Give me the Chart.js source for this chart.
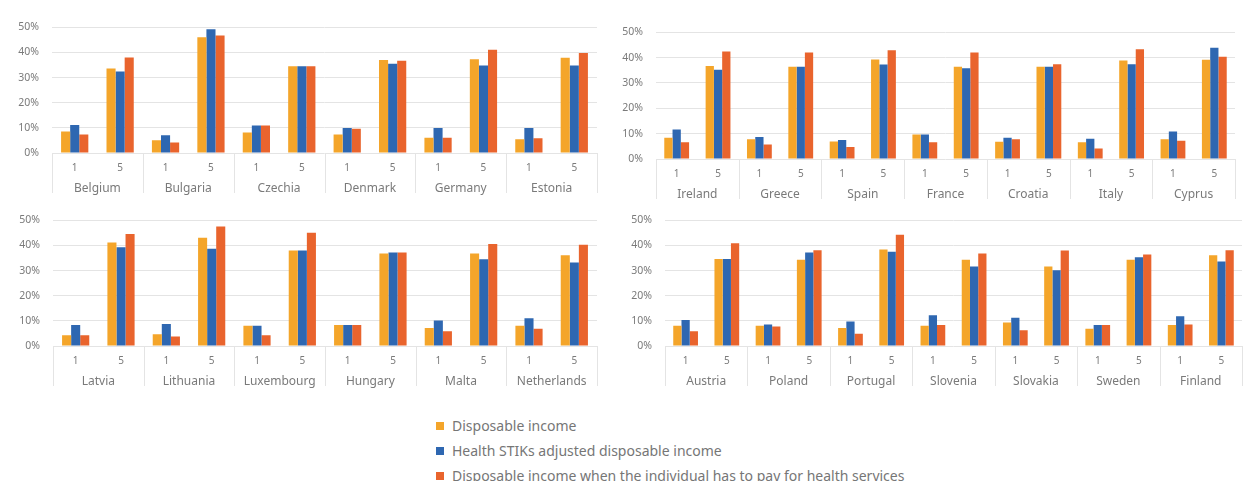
<!DOCTYPE html>
<html>
<head>
<meta charset="utf-8">
<script src="https://cdn.jsdelivr.net/npm/chart.js@4.4.1/dist/chart.umd.min.js"></script>
<style>
  html, body { margin: 0; padding: 0; background: #fff; }
  body { width: 1246px; height: 481px; position: relative; overflow: hidden; font-family: "Noto Sans", sans-serif; }
  canvas.panel { position: absolute; }
  #legend { position: absolute; left: 436px; top: 413px; color: #767676; font-size: 14px; }
  #legend .row { height: 25px; display: flex; align-items: center; white-space: nowrap; }
  #legend .key { width: 8px; height: 8px; margin-right: 8px; flex: none; }
</style>
</head>
<body>
<canvas id="panelA" class="panel"></canvas>
<canvas id="panelB" class="panel"></canvas>
<canvas id="panelC" class="panel"></canvas>
<canvas id="panelD" class="panel"></canvas>
<div id="legend"></div>

<script>
// ---- data (share of people, %) ----
const quintiles = ["1", "5"];
const yTicks = [0, 10, 20, 30, 40, 50];
const seriesNames = [
  "Disposable income",
  "Health STIKs adjusted disposable income",
  "Disposable income when the individual has to pay for health services"
];

// values are ordered country by country: [quintile 1, quintile 5, ...]
const countriesA = ["Belgium", "Bulgaria", "Czechia", "Denmark", "Germany", "Estonia"];
const incomeA = [8.6, 33.6, 5.1, 46.0, 8.2, 34.5, 7.4, 37.0, 6.1, 37.3, 5.5, 37.9];
const stiksA  = [11.1, 32.4, 7.1, 49.2, 10.9, 34.5, 9.9, 35.5, 9.9, 34.8, 9.9, 34.8];
const payA    = [7.4, 38.0, 4.2, 46.7, 10.9, 34.5, 9.6, 36.7, 6.1, 41.1, 5.9, 39.8];

const countriesB = ["Ireland", "Greece", "Spain", "France", "Croatia", "Italy", "Cyprus"];
const incomeB = [8.4, 36.7, 7.8, 36.4, 6.9, 39.3, 9.7, 36.4, 6.8, 36.4, 6.6, 38.9, 7.8, 39.2];
const stiksB  = [11.6, 35.2, 8.7, 36.4, 7.5, 37.3, 9.7, 35.8, 8.4, 36.4, 8.0, 37.4, 10.9, 43.9];
const payB    = [6.6, 42.4, 5.7, 42.0, 4.7, 42.9, 6.6, 42.0, 7.8, 37.4, 4.1, 43.3, 7.2, 40.4];

const countriesC = ["Latvia", "Lithuania", "Luxembourg", "Hungary", "Malta", "Netherlands"];
const incomeC = [4.3, 41.2, 4.7, 43.1, 8.1, 38.0, 8.4, 36.8, 7.2, 36.8, 8.1, 36.1];
const stiksC  = [8.4, 39.3, 8.8, 38.7, 8.1, 38.0, 8.4, 37.2, 10.1, 34.5, 11.0, 33.2];
const payC    = [4.3, 44.6, 3.8, 47.5, 4.3, 45.0, 8.4, 37.2, 5.9, 40.6, 6.9, 40.3];

const countriesD = ["Austria", "Poland", "Portugal", "Slovenia", "Slovakia", "Sweden", "Finland"];
const incomeD = [8.1, 34.6, 8.1, 34.3, 7.2, 38.4, 8.1, 34.3, 9.3, 31.6, 6.9, 34.3, 8.4, 36.1];
const stiksD  = [10.3, 34.6, 8.6, 37.2, 9.7, 37.5, 12.2, 31.6, 11.2, 30.1, 8.4, 35.3, 11.8, 33.6];
const payD    = [5.9, 40.9, 7.8, 38.1, 4.9, 44.3, 8.4, 36.8, 6.3, 38.0, 8.4, 36.4, 8.6, 38.1];

// ---- look ----
const COLORS = ["#F4A52A", "#2E67B1", "#E9642D"];
const TEXT = "#7a7a7a";
const GRID = "#e4e4e4";
const Y_AXIS_W = 52;   // room for the % labels
const X_ROW1_H = 22;   // quintile row
const X_ROW2_H = 20;   // country row
const TOP_PAD = 12;

// plot area of each panel on the page
const panels = [
  { id: "panelA", countries: countriesA, series: [incomeA, stiksA, payA], plot: { left: 52,  right: 597,  top: 20,  bottom: 153 } },
  { id: "panelB", countries: countriesB, series: [incomeB, stiksB, payB], plot: { left: 656, right: 1235, top: 25,  bottom: 159 } },
  { id: "panelC", countries: countriesC, series: [incomeC, stiksC, payC], plot: { left: 53,  right: 597,  top: 213, bottom: 346 } },
  { id: "panelD", countries: countriesD, series: [incomeD, stiksD, payD], plot: { left: 665, right: 1242, top: 213, bottom: 346 } }
];

// vertical separators between the country groups under the axis
const groupLines = {
  id: "groupLines",
  afterDraw(chart) {
    const { ctx, chartArea, scales: { x } } = chart;
    const n = x.ticks.length;
    ctx.save();
    ctx.strokeStyle = GRID;
    ctx.lineWidth = 1;
    for (let i = 0; i <= n; i += 2) {
      let px;
      if (i === 0) px = chartArea.left;
      else if (i === n) px = chartArea.right;
      else px = (x.getPixelForTick(i - 1) + x.getPixelForTick(i)) / 2;
      px = Math.round(px) + 0.5;
      ctx.beginPath();
      ctx.moveTo(px, chartArea.bottom);
      ctx.lineTo(px, chartArea.bottom + X_ROW1_H + X_ROW2_H - 2);
      ctx.stroke();
    }
    ctx.restore();
  }
};

function buildPanel(p) {
  const canvas = document.getElementById(p.id);
  const left = p.plot.left - Y_AXIS_W;
  const top = p.plot.top - TOP_PAD;
  const w = p.plot.right - left + 2;
  const h = p.plot.bottom - top + X_ROW1_H + X_ROW2_H;
  canvas.style.left = left + "px";
  canvas.style.top = top + "px";
  canvas.width = w;
  canvas.height = h;

  const labels = p.countries.flatMap(() => quintiles);

  return new Chart(canvas.getContext("2d"), {
    type: "bar",
    data: {
      labels,
      datasets: p.series.map((vals, i) => ({
        label: seriesNames[i],
        data: vals,
        backgroundColor: COLORS[i],
        borderWidth: 0,
        barPercentage: 1.0,
        categoryPercentage: 0.6
      }))
    },
    options: {
      responsive: false,
      animation: false,
      layout: { padding: { top: TOP_PAD, right: 2, bottom: 0, left: 0 } },
      plugins: { legend: { display: false }, tooltip: { enabled: false } },
      scales: {
        y: {
          min: 0,
          max: 50,
          afterBuildTicks: s => { s.ticks = yTicks.map(v => ({ value: v })); },
          afterFit: s => { s.width = Y_AXIS_W; },
          border: { display: false },
          grid: { color: GRID, drawTicks: false },
          ticks: {
            padding: 13,
            color: TEXT,
            font: { family: "Noto Sans", size: 10.5 },
            callback: v => v + "%"
          }
        },
        x: {
          afterFit: s => { s.height = X_ROW1_H; },
          border: { display: false },
          grid: { display: false, drawTicks: false },
          ticks: { padding: 9, color: TEXT, maxRotation: 0, autoSkip: false, font: { family: "Noto Sans", size: 10 } }
        },
        x2: {
          type: "category",
          labels: p.countries,
          position: "bottom",
          offset: true,
          weight: 1,
          afterFit: s => { s.height = X_ROW2_H; },
          border: { display: false },
          grid: { display: false, drawTicks: false },
          ticks: { padding: 6, color: TEXT, maxRotation: 0, autoSkip: false, font: { family: "Noto Sans", size: 12 } }
        }
      }
    },
    plugins: [groupLines]
  });
}

panels.forEach(buildPanel);

// shared legend
const legend = document.getElementById("legend");
seriesNames.forEach((name, i) => {
  const row = document.createElement("div");
  row.className = "row";
  const key = document.createElement("span");
  key.className = "key";
  key.style.background = COLORS[i];
  const txt = document.createElement("span");
  txt.textContent = name;
  row.append(key, txt);
  legend.append(row);
});
</script>
</body>
</html>
